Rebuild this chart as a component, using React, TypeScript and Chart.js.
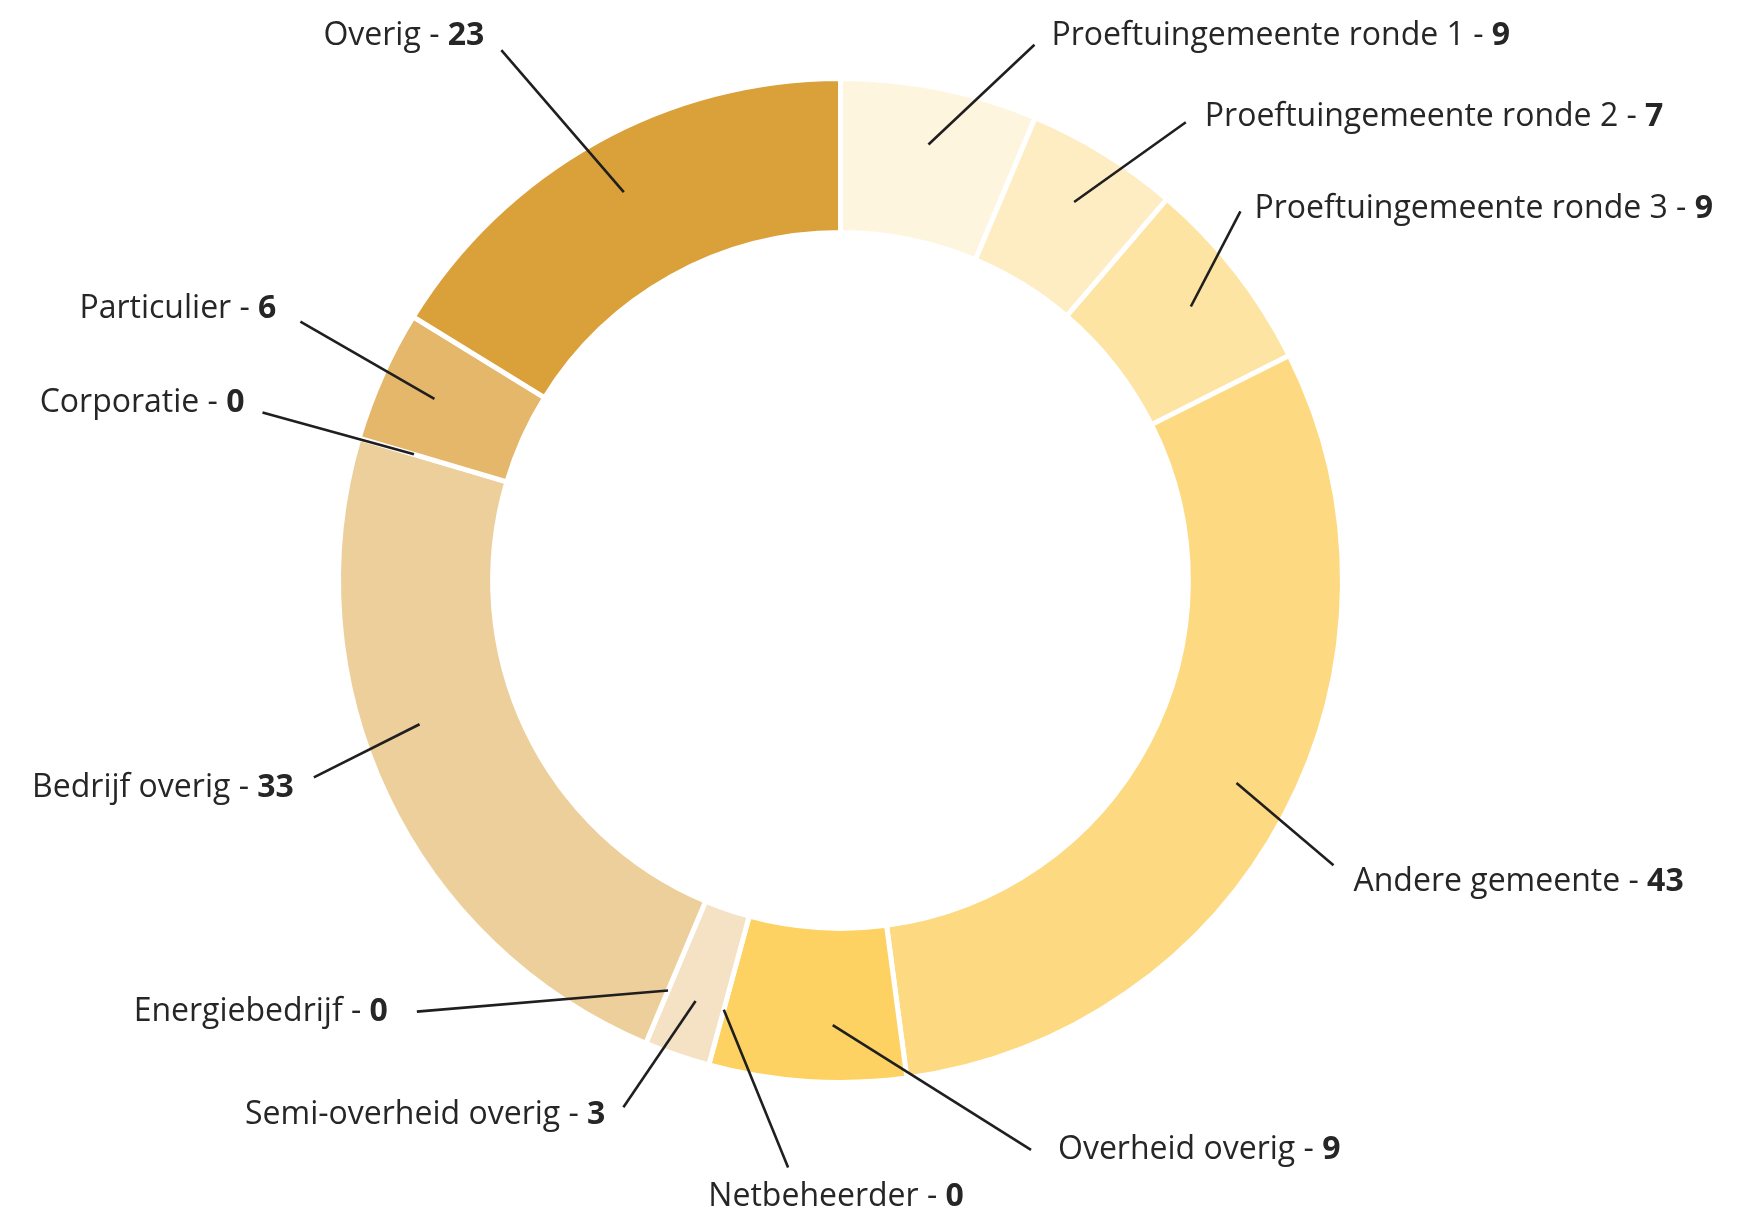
import React, { useEffect, useRef } from "react";
import { Chart, registerables } from "chart.js";

Chart.register(...registerables);

const categories = [
  "Proeftuingemeente ronde 1",
  "Proeftuingemeente ronde 2",
  "Proeftuingemeente ronde 3",
  "Andere gemeente",
  "Overheid overig",
  "Netbeheerder",
  "Semi-overheid overig",
  "Energiebedrijf",
  "Bedrijf overig",
  "Corporatie",
  "Particulier",
  "Overig",
];
const values = [9, 7, 9, 43, 9, 0, 3, 0, 33, 0, 6, 23];
const colors = [
  "#FEF5DE",
  "#FEEDC2",
  "#FEE4A2",
  "#FDDA81",
  "#FDD262",
  "#F0DDB8",
  "#F5E2C5",
  "#ECD3A6",
  "#EDCF9C",
  "#E8C287",
  "#E4B76B",
  "#DAA13A",
];

// Label layout: connector end (angle clockwise from top, radius as factor of outer radius),
// text offset from connector end, alignment, and small shift of the anchor angle.
const labelLayout = [
  { a: 19.9, r: 1.135, dx: 17, dy: -11, align: "left", shift: 0 },
  { a: 37.0, r: 1.143, dx: 19, dy: -8, align: "left", shift: 0 },
  { a: 47.3, r: 1.084, dx: 14, dy: -5, align: "left", shift: 0 },
  { a: 120.0, r: 1.134, dx: 20, dy: 14, align: "left", shift: -0.8 },
  { a: 161.5, r: 1.196, dx: 27, dy: -2, align: "left", shift: -2.8 },
  { a: 185.1, r: 1.174, dx: 48, dy: 27, align: "center", shift: 0 },
  { a: 202.4, r: 1.135, dx: -18, dy: 5, align: "right", shift: 0 },
  { a: 224.5, r: 1.204, dx: -29, dy: -2, align: "right", shift: 0 },
  { a: 249.5, r: 1.12, dx: -20, dy: 8, align: "right", shift: 6.5 },
  { a: 286.2, r: 1.199, dx: -18, dy: -12, align: "right", shift: 0 },
  { a: 295.6, r: 1.193, dx: -24, dy: -15, align: "right", shift: 0 },
  { a: 327.4, r: 1.254, dx: -17, dy: -17, align: "right", shift: 0 },
];

const FONT_SIZE = 32;
const TEXT_SHIFT_Y = 2.5;
const FONT_FAMILY = '"Open Sans", "Noto Sans", sans-serif';
const TEXT_COLOR = "#262626";
const LINE_COLOR = "#1f1f1f";

const labelPlugin = {
  id: "leaderLabels",
  afterDraw(chart: any) {
    const ctx = chart.ctx as CanvasRenderingContext2D;
    const meta = chart.getDatasetMeta(0);
    const regFont = `400 ${FONT_SIZE}px ${FONT_FAMILY}`;
    const boldFont = `700 ${FONT_SIZE}px ${FONT_FAMILY}`;
    meta.data.forEach((arc: any, i: number) => {
      const p = arc.getProps(["x", "y", "startAngle", "endAngle", "outerRadius"], true);
      const lay = labelLayout[i];
      const mid = (p.startAngle + p.endAngle) / 2 + (lay.shift * Math.PI) / 180;
      const rStart = p.outerRadius * 0.886;
      const sx = p.x + Math.cos(mid) * rStart;
      const sy = p.y + Math.sin(mid) * rStart;
      const ea = ((lay.a - 90) * Math.PI) / 180;
      const ex = p.x + Math.cos(ea) * p.outerRadius * lay.r;
      const ey = p.y + Math.sin(ea) * p.outerRadius * lay.r;

      ctx.save();
      ctx.strokeStyle = LINE_COLOR;
      ctx.lineWidth = 2.6;
      ctx.lineCap = "butt";
      ctx.beginPath();
      ctx.moveTo(sx, sy);
      ctx.lineTo(ex, ey);
      ctx.stroke();

      const part1 = `${categories[i]} - `;
      const part2 = `${values[i]}`;
      ctx.font = regFont;
      const w1 = ctx.measureText(part1).width;
      ctx.font = boldFont;
      const w2 = ctx.measureText(part2).width;
      const total = w1 + w2;
      const tx = ex + lay.dx;
      const ty = ey + lay.dy + TEXT_SHIFT_Y;
      let left = tx;
      if (lay.align === "right") left = tx - total;
      else if (lay.align === "center") left = tx - total / 2;
      ctx.fillStyle = TEXT_COLOR;
      ctx.textBaseline = "middle";
      ctx.textAlign = "left";
      ctx.font = regFont;
      ctx.fillText(part1, left, ty);
      ctx.font = boldFont;
      ctx.fillText(part2, left + w1, ty);
      ctx.restore();
    });
  },
};

export default function App() {
  const canvasRef = useRef<HTMLCanvasElement | null>(null);

  useEffect(() => {
    if (!canvasRef.current) return;
    const chart = new Chart(canvasRef.current, {
      type: "doughnut",
      data: {
        labels: categories,
        datasets: [
          {
            data: values,
            backgroundColor: colors,
            borderColor: "#ffffff",
            borderWidth: 5,
            hoverOffset: 0,
          },
        ],
      },
      options: {
        responsive: false,
        animation: false,
        radius: 502,
        cutout: "69.3%",
        layout: { padding: { left: 0, right: 76, top: 0, bottom: 50 } },
        plugins: {
          legend: { display: false },
          tooltip: { enabled: false },
        },
      } as any,
      plugins: [labelPlugin],
    });
    return () => chart.destroy();
  }, []);

  return (
    <div style={{ position: "absolute", left: 0, top: 0, width: 1757, height: 1211, overflow: "hidden" }}>
      <canvas ref={canvasRef} width={1757} height={1211} style={{ display: "block" }} />
    </div>
  );
}
